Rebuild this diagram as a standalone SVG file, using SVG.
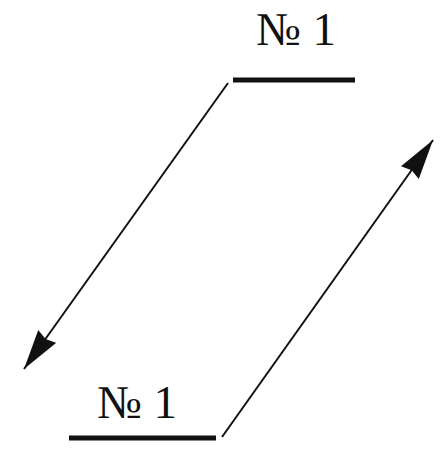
<svg xmlns="http://www.w3.org/2000/svg" width="443" height="454" viewBox="0 0 443 454">
<style>
.lbl{font-family:"Liberation Serif","Times New Roman",serif;font-size:47px;fill:#111}
.bar{stroke:#111;stroke-width:5}
.conn{stroke:#111;stroke-width:2;fill:none}
</style>
<defs>
<marker id="ah" markerUnits="userSpaceOnUse" markerWidth="44" markerHeight="26" refX="40" refY="11" orient="auto">
<path d="M0,0 L40,11 L0,22 L3,11 z" fill="#111"/>
</marker>
</defs>
<rect width="443" height="454" fill="#fff"/>
<g id="top">
<text class="lbl" x="256" y="45">№ 1</text>
<line class="bar" x1="233" y1="80" x2="355" y2="80"/>
</g>
<g id="bottom">
<text class="lbl" x="97" y="418">№ 1</text>
<line class="bar" x1="69" y1="438" x2="216" y2="438"/>
</g>
<g id="connectors">
<line class="conn" x1="228" y1="83" x2="24" y2="369" marker-end="url(#ah)"/>
<line class="conn" x1="222" y1="437" x2="433" y2="140" marker-end="url(#ah)"/>
</g>
</svg>
